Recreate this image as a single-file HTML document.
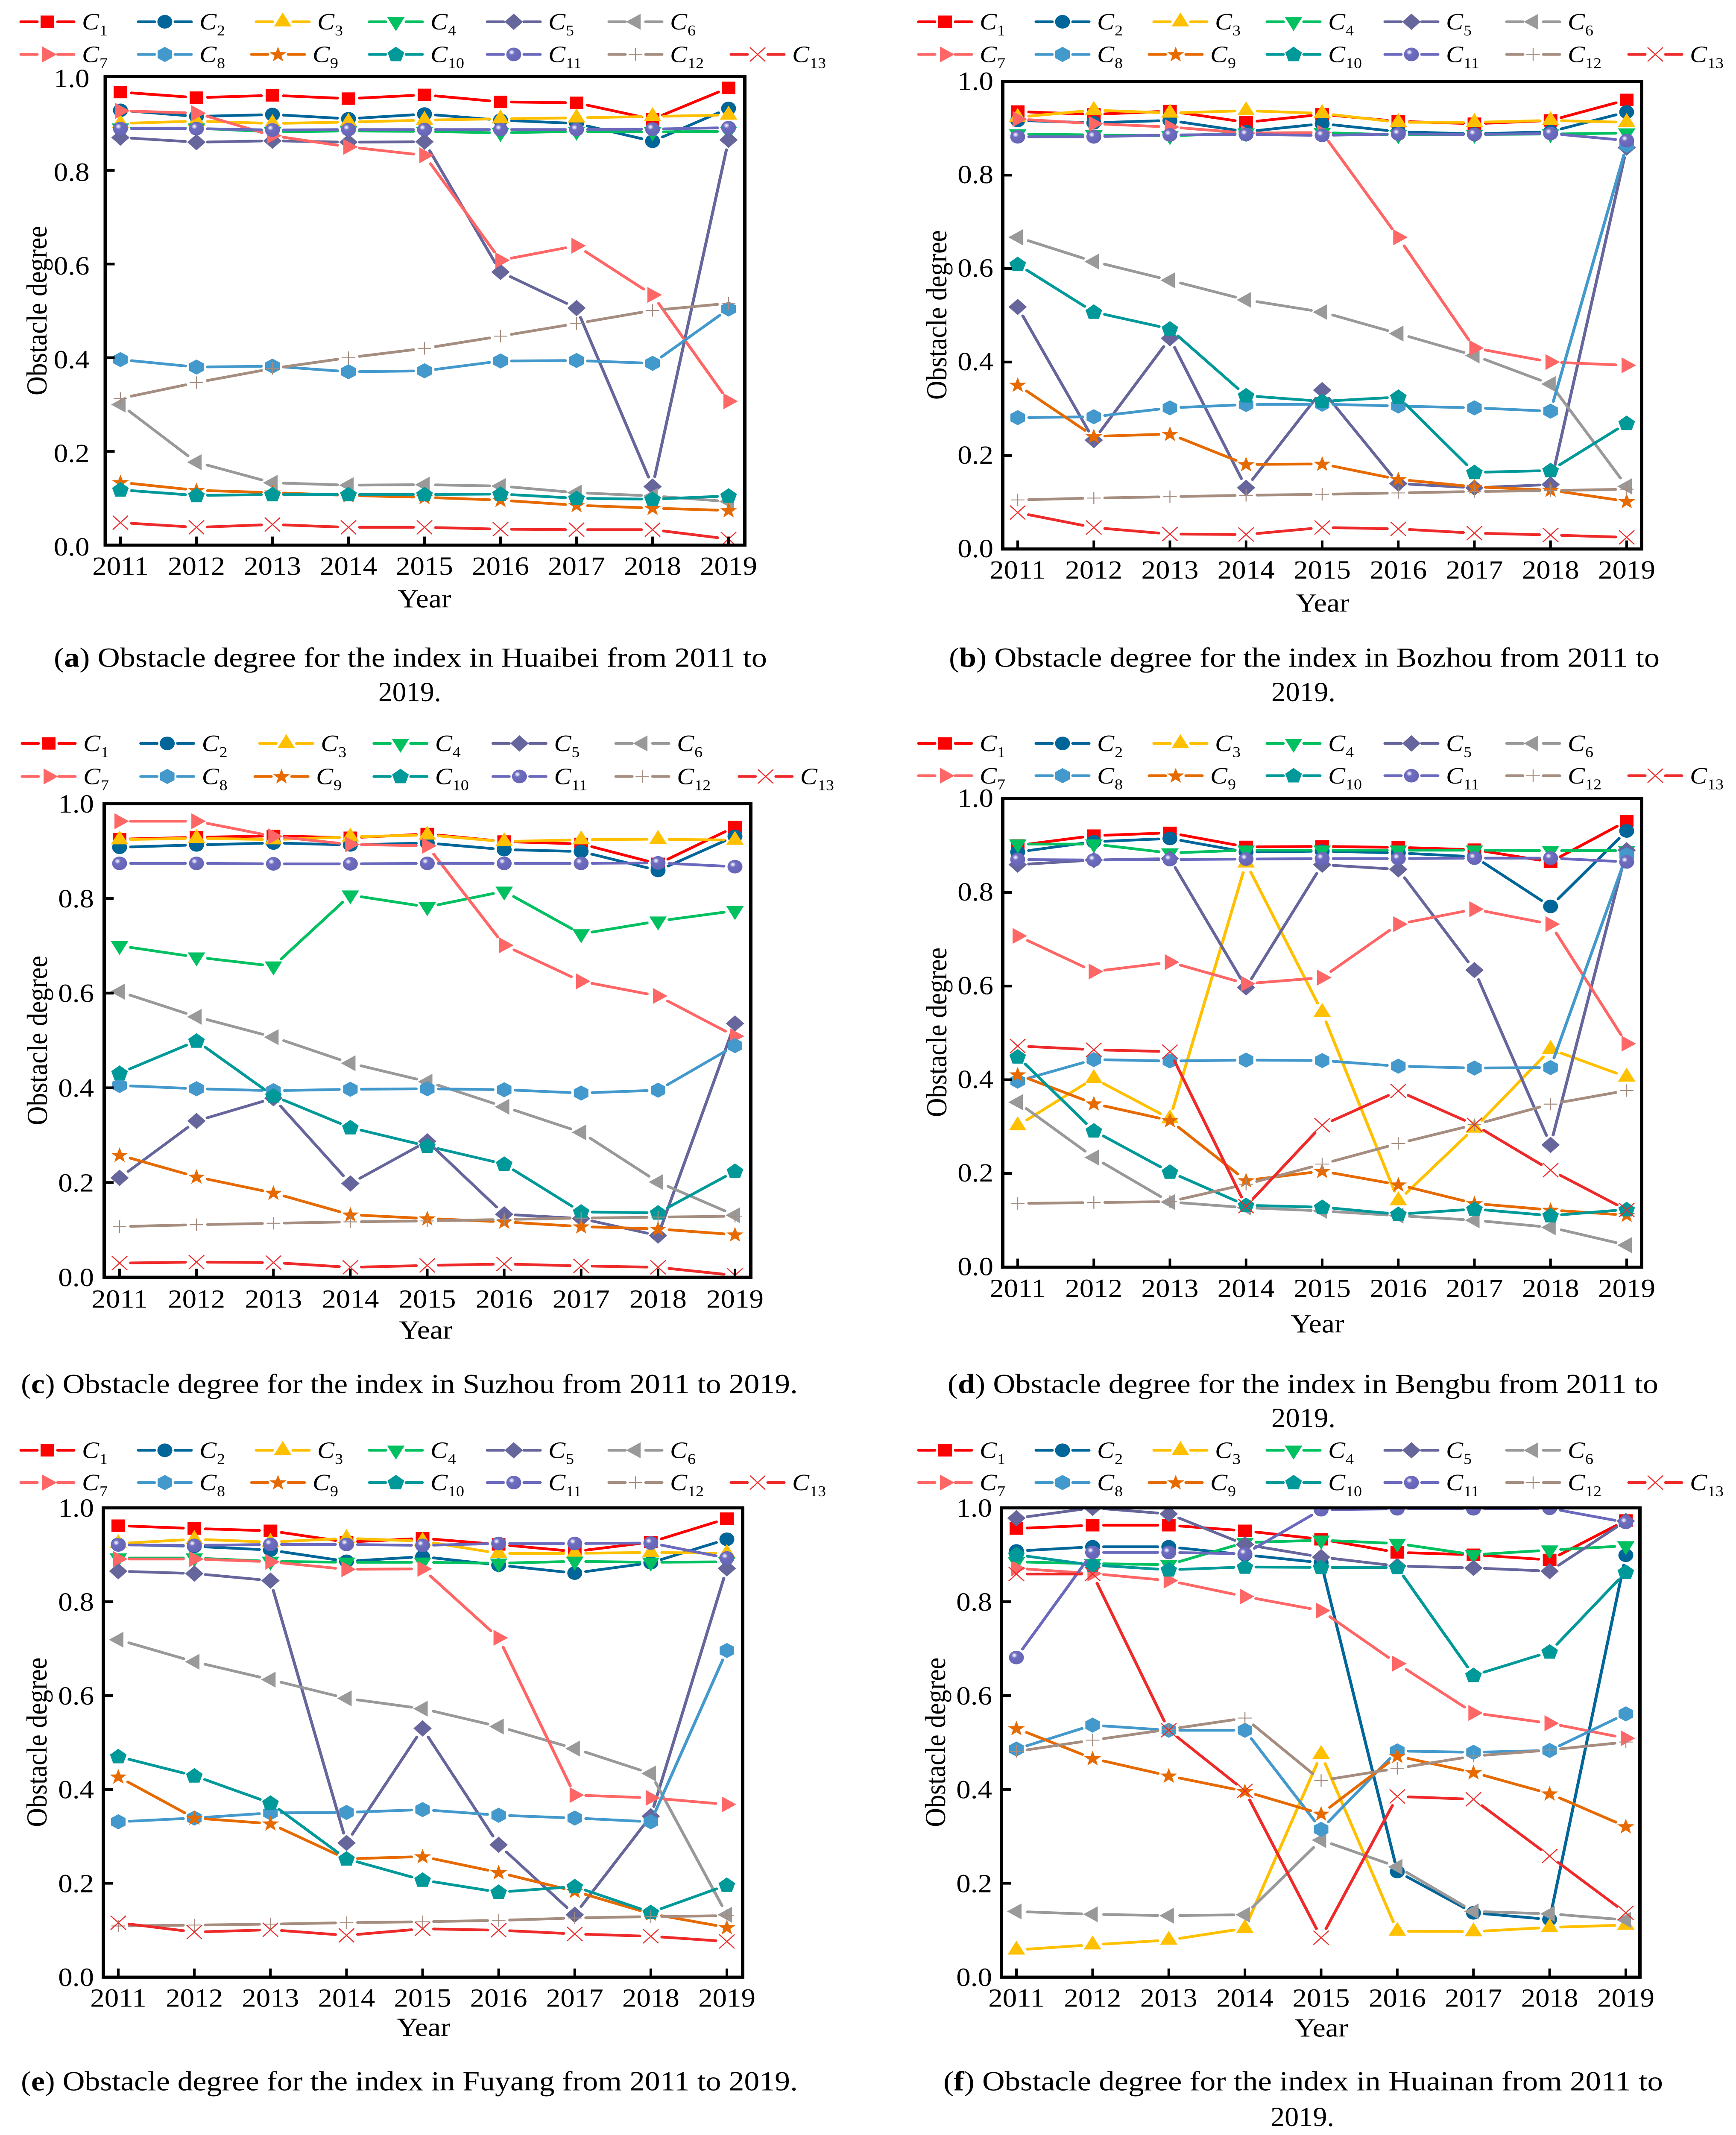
<!DOCTYPE html>
<html lang="en">
<head>
<meta charset="utf-8">
<title>Obstacle degree for the index in six cities, 2011–2019</title>
<style>
html,body{margin:0;padding:0;background:#fff;width:100vw;height:100vh;overflow:hidden;}
svg#figure{display:block;overflow:hidden;position:absolute;left:0;top:0;width:100vw;height:100vh;}
text{font-family:"Liberation Serif",serif;fill:#000;}
.cap{font-size:71px;}
.ttl{font-size:68px;}
</style>
</head>
<body>
<svg id="figure" xmlns="http://www.w3.org/2000/svg" viewBox="0 0 4065 5491" preserveAspectRatio="none">
<defs>
<radialGradient id="sphere" cx="0.36" cy="0.34" r="0.55">
<stop offset="0" stop-color="#f4f4fb"/>
<stop offset="0.14" stop-color="#d4d3ee"/>
<stop offset="0.36" stop-color="#6f6dc0"/>
<stop offset="1" stop-color="#6866b8"/>
</radialGradient>
</defs>

<g id="panel-a">
<text class="ttl" transform="translate(109 799) rotate(-90)" text-anchor="middle">Obstacle degree</text>
<text class="ttl" x="994" y="1562" text-anchor="middle">Year</text>
<text class="cap" x="126" y="1715" textLength="1670" lengthAdjust="spacingAndGlyphs">(<tspan font-weight="bold">a</tspan>) Obstacle degree for the index in Huaibei from 2011 to</text>
<text class="cap" x="886" y="1803" textLength="147" lengthAdjust="spacingAndGlyphs">2019.</text>
</g>

<g id="panel-b">
<text class="ttl" transform="translate(2216 810) rotate(-90)" text-anchor="middle">Obstacle degree</text>
<text class="ttl" x="3097" y="1573" text-anchor="middle">Year</text>
<text class="cap" x="2222" y="1715" textLength="1664" lengthAdjust="spacingAndGlyphs">(<tspan font-weight="bold">b</tspan>) Obstacle degree for the index in Bozhou from 2011 to</text>
<text class="cap" x="2977" y="1803" textLength="150" lengthAdjust="spacingAndGlyphs">2019.</text>
</g>

<g id="panel-c">
<text class="ttl" transform="translate(110 2676) rotate(-90)" text-anchor="middle">Obstacle degree</text>
<text class="ttl" x="997" y="3443" text-anchor="middle">Year</text>
<text class="cap" x="49" y="3583" textLength="1819" lengthAdjust="spacingAndGlyphs">(<tspan font-weight="bold">c</tspan>) Obstacle degree for the index in Suzhou from 2011 to 2019.</text>
</g>

<g id="panel-d">
<text class="ttl" transform="translate(2216 2655) rotate(-90)" text-anchor="middle">Obstacle degree</text>
<text class="ttl" x="3085" y="3427" text-anchor="middle">Year</text>
<text class="cap" x="2219" y="3583" textLength="1664" lengthAdjust="spacingAndGlyphs">(<tspan font-weight="bold">d</tspan>) Obstacle degree for the index in Bengbu from 2011 to</text>
<text class="cap" x="2977" y="3670" textLength="150" lengthAdjust="spacingAndGlyphs">2019.</text>
</g>

<g id="panel-e">
<text class="ttl" transform="translate(109 4481) rotate(-90)" text-anchor="middle">Obstacle degree</text>
<text class="ttl" x="992" y="5236" text-anchor="middle">Year</text>
<text class="cap" x="49" y="5376" textLength="1819" lengthAdjust="spacingAndGlyphs">(<tspan font-weight="bold">e</tspan>) Obstacle degree for the index in Fuyang from 2011 to 2019.</text>
</g>

<g id="panel-f">
<text class="ttl" transform="translate(2213 4481) rotate(-90)" text-anchor="middle">Obstacle degree</text>
<text class="ttl" x="3094" y="5238" text-anchor="middle">Year</text>
<text class="cap" x="2209" y="5376" textLength="1685" lengthAdjust="spacingAndGlyphs">(<tspan font-weight="bold">f</tspan>) Obstacle degree for the index in Huainan from 2011 to</text>
<text class="cap" x="2975" y="5468" textLength="149" lengthAdjust="spacingAndGlyphs">2019.</text>
</g>
</svg>

<script>
const years = ['2011','2012','2013','2014','2015','2016','2017','2018','2019'];
const yTickLabels = ['0.0','0.2','0.4','0.6','0.8','1.0'];
const yTickValues = [0,0.2,0.4,0.6,0.8,1.0];
const indexNumbers = ['1','2','3','4','5','6','7','8','9','10','11','12','13'];

const huaibeiValues = [
[.967,.955,.960,.953,.961,.946,.944,.909,.976],
[.928,.915,.919,.910,.920,.907,.900,.862,.932],
[.900,.905,.900,.903,.907,.910,.912,.915,.918],
[.890,.890,.882,.884,.883,.880,.883,.882,.883],
[.870,.860,.863,.860,.861,.583,.506,.125,.865],
[.300,.177,.133,.128,.129,.126,.112,.105,.093],
[.927,.922,.874,.850,.832,.608,.639,.534,.307],
[.396,.380,.382,.370,.372,.393,.394,.388,.504],
[.134,.117,.112,.106,.102,.096,.085,.079,.074],
[.118,.106,.108,.108,.108,.109,.100,.098,.105],
[.889,.889,.886,.887,.887,.887,.887,.888,.891],
[.313,.347,.377,.400,.420,.446,.473,.501,.516],
[.048,.038,.044,.038,.038,.034,.033,.033,.013]
];
const bozhouValues = [
[.936,.930,.937,.913,.930,.915,.910,.917,.961],
[.917,.912,.917,.893,.910,.893,.888,.893,.935],
[.924,.939,.933,.938,.932,.913,.913,.917,.913],
[.888,.886,.884,.890,.891,.886,.887,.888,.890],
[.518,.233,.451,.131,.340,.140,.131,.138,.859],
[.667,.615,.575,.533,.507,.461,.414,.353,.134],
[.920,.910,.903,.890,.891,.667,.430,.400,.393],
[.281,.283,.302,.309,.310,.306,.302,.295,.864],
[.351,.241,.246,.181,.182,.149,.133,.126,.102],
[.609,.507,.471,.328,.316,.325,.164,.168,.269],
[.882,.882,.886,.887,.885,.888,.887,.889,.874],
[.105,.109,.112,.115,.117,.120,.123,.125,.128],
[.078,.046,.032,.031,.046,.043,.034,.030,.025]
];
const suzhouValues = [
[.925,.929,.932,.928,.936,.920,.915,.873,.951],
[.908,.913,.917,.913,.917,.903,.899,.859,.931],
[.924,.927,.924,.930,.934,.920,.924,.925,.923],
[.700,.676,.657,.807,.782,.815,.725,.752,.774],
[.210,.330,.378,.198,.287,.133,.124,.088,.536],
[.603,.550,.507,.452,.413,.360,.306,.201,.131],
[.963,.963,.931,.914,.911,.701,.625,.594,.509],
[.405,.398,.394,.397,.398,.396,.389,.395,.489],
[.258,.212,.178,.132,.124,.117,.107,.102,.090],
[.431,.499,.383,.316,.277,.239,.138,.136,.224],
[.874,.874,.873,.873,.874,.874,.874,.875,.867],
[.107,.111,.114,.117,.119,.122,.125,.127,.129],
[.030,.032,.031,.021,.025,.028,.024,.021,.004]
];
const bengbuValues = [
[.900,.921,.927,.897,.898,.896,.891,.865,.952],
[.886,.908,.915,.886,.888,.884,.876,.770,.931],
[.302,.403,.317,.863,.544,.142,.297,.465,.406],
[.903,.903,.884,.890,.890,.890,.890,.889,.889],
[.859,.869,.872,.597,.859,.849,.634,.261,.890],
[.352,.234,.139,.127,.120,.110,.100,.085,.047],
[.707,.631,.651,.605,.618,.732,.764,.732,.477],
[.397,.443,.440,.442,.441,.429,.425,.426,.880],
[.411,.349,.313,.185,.205,.176,.136,.122,.111],
[.449,.291,.203,.132,.128,.113,.124,.110,.123],
[.870,.869,.870,.871,.872,.872,.873,.873,.865],
[.136,.138,.140,.177,.220,.264,.304,.348,.377],
[.472,.464,.460,.130,.303,.376,.304,.207,.122]
];
const fuyangValues = [
[.962,.956,.951,.927,.935,.922,.907,.927,.977],
[.922,.918,.910,.886,.896,.878,.861,.883,.933],
[.924,.933,.927,.935,.929,.903,.903,.905,.903],
[.893,.893,.886,.884,.884,.882,.886,.884,.885],
[.865,.860,.845,.286,.530,.282,.133,.343,.871],
[.719,.672,.634,.594,.572,.534,.487,.434,.133],
[.891,.891,.885,.869,.870,.723,.388,.382,.368],
[.331,.339,.350,.351,.357,.345,.339,.331,.696],
[.427,.339,.327,.252,.257,.223,.183,.135,.106],
[.470,.429,.371,.252,.207,.181,.193,.138,.196],
[.921,.920,.922,.922,.920,.924,.924,.925,.893],
[.109,.111,.113,.116,.118,.121,.126,.129,.131],
[.116,.096,.101,.089,.103,.100,.092,.087,.076]
];
const huainanValues = [
[.956,.963,.963,.951,.933,.905,.900,.889,.973],
[.908,.917,.917,.900,.883,.225,.137,.123,.899],
[.058,.069,.079,.104,.475,.098,.097,.106,.111],
[.885,.881,.879,.926,.931,.924,.900,.910,.919],
[.978,1.000,.987,.922,.895,.876,.872,.865,.972],
[.140,.134,.131,.133,.292,.235,.140,.135,.122],
[.871,.860,.845,.811,.781,.668,.563,.541,.509],
[.486,.537,.526,.526,.315,.482,.479,.483,.561],
[.530,.466,.429,.396,.348,.471,.436,.391,.321],
[.900,.878,.868,.874,.873,.873,.643,.693,.863],
[.681,.905,.905,.902,.996,.998,.998,.999,.969],
[.481,.505,.528,.552,.419,.445,.471,.484,.501],
[.859,.859,.526,.397,.084,.385,.379,.258,.137]
];

const seriesColors = ['#ff0000','#006699','#ffc000','#00c060','#66669c','#999999','#ff6666','#4499cc','#e66a00','#009999','#6b69bd','#a58d80','#ee2a2a'];

/* layout only */
const layouts = [
  {id:'panel-a', data:huaibeiValues, left:246.5, right:1744, top:197, bottom:1402, x0:282, x1:1706, yLabelGap:37, yLabelDrop:27, xLabelDrop:76, legDx:0, legY1:56, legY2:140, legScale:1, legShift:0},
  {id:'panel-b', data:bozhouValues, left:2348, right:3844, top:210, bottom:1412, x0:2383, x1:3809, yLabelGap:22, yLabelDrop:21, xLabelDrop:76, legDx:2102, legY1:56, legY2:140, legScale:1, legShift:0},
  {id:'panel-c', data:suzhouValues, left:244, right:1758, top:2067, bottom:3285, x0:280, x1:1721, yLabelGap:24, yLabelDrop:23, xLabelDrop:78, legDx:0, legY1:1912, legY2:1997, legScale:1.0095, legShift:3},
  {id:'panel-d', data:bengbuValues, left:2348, right:3844, top:2054, bottom:3259, x0:2383, x1:3809, yLabelGap:22, yLabelDrop:21, xLabelDrop:77, legDx:2102, legY1:1912, legY2:1995, legScale:1, legShift:0},
  {id:'panel-e', data:fuyangValues, left:242, right:1739, top:3878, bottom:5085, x0:277, x1:1702, yLabelGap:22, yLabelDrop:23, xLabelDrop:76, legDx:0, legY1:3730, legY2:3813, legScale:1, legShift:0},
  {id:'panel-f', data:huainanValues, left:2345, right:3840, top:3878, bottom:5085, x0:2380, x1:3807, yLabelGap:22, yLabelDrop:23, xLabelDrop:76, legDx:2102, legY1:3730, legY2:3813, legScale:1, legShift:0}
];
const legendRow1X = [111,386,662,927,1203,1488];
const legendRow2X = [111,386,651,927,1203,1488,1774];

const NS = 'http://www.w3.org/2000/svg';
function mk(tag, attrs, parent){
  const el = document.createElementNS(NS, tag);
  for (const k in attrs) el.setAttribute(k, attrs[k]);
  if (parent) parent.appendChild(el);
  return el;
}
function starPoints(){
  const p = [];
  for (let i = 0; i < 10; i++){
    const r = i % 2 ? 8.5 : 21;
    const a = -Math.PI/2 + i*Math.PI/5;
    p.push((r*Math.cos(a)).toFixed(1)+','+(r*Math.sin(a)+1).toFixed(1));
  }
  return p.join(' ');
}
function drawMarker(g, idx, color){
  if (idx === 0) mk('rect',{x:-16,y:-16,width:32,height:32,fill:color},g);
  else if (idx === 1) mk('circle',{r:17.5,fill:color},g);
  else if (idx === 2) mk('polygon',{points:'0,-24 20.5,12 -20.5,12',fill:color},g);
  else if (idx === 3) mk('polygon',{points:'0,24 20.5,-12 -20.5,-12',fill:color},g);
  else if (idx === 4) mk('polygon',{points:'0,-21 21.5,0 0,21 -21.5,0',fill:color},g);
  else if (idx === 5) mk('polygon',{points:'-22,0 12,-20.5 12,20.5',fill:color},g);
  else if (idx === 6) mk('polygon',{points:'22,0 -12,-20.5 -12,20.5',fill:color},g);
  else if (idx === 7) mk('polygon',{points:'0,-19.5 17,-9.5 17,9.5 0,19.5 -17,9.5 -17,-9.5',fill:color},g);
  else if (idx === 8) mk('polygon',{points:starPoints(),fill:color},g);
  else if (idx === 9) mk('polygon',{points:'0,-20 19.5,-5 12,17.5 -12,17.5 -19.5,-5',fill:color},g);
  else if (idx === 10) mk('circle',{r:17.5,fill:'url(#sphere)'},g);
  else if (idx === 11) mk('path',{d:'M-16 0H16M0 -16V16',stroke:color,'stroke-width':2.4,fill:'none'},g);
  else mk('path',{d:'M-18 -18L18 18M18 -18L-18 18',stroke:color,'stroke-width':2.6,fill:'none'},g);
}

function drawLegendEntry(parent, cx, cy, idx){
  const entry = mk('g',{},parent);
  
  
  mk('path',{d:'M'+(cx-62)+' '+cy+'H'+(cx-24)+'M'+(cx+24)+' '+cy+'H'+(cx+62),stroke:seriesColors[idx],'stroke-width':7,'stroke-linecap':'round',fill:'none'},entry);
  const m = mk('g',{transform:'translate('+cx+' '+cy+')'},entry);
  drawMarker(m, idx, seriesColors[idx]);
  const t = mk('text',{x:cx+81,y:cy+20,'font-size':60,'font-style':'italic'},entry);
  t.textContent = 'C';
  const s = mk('tspan',{dx:1,dy:15,'font-size':38,'font-style':'normal'},t);
  s.textContent = indexNumbers[idx];
}

layouts.forEach(function(L, pi){
  const root = document.getElementById(L.id);
  const xOf = function(i){ return L.x0 + (L.x1 - L.x0) * i / (years.length - 1); };
  const yOf = function(v){ return L.bottom - (L.bottom - L.top) * v; };

  /* legend */
  const legend = mk('g',{},root);
  
  
  legendRow1X.forEach(function(x, i){
    const cx = (x - 111) * L.legScale + 111 + L.legShift + L.legDx;
    drawLegendEntry(legend, cx, L.legY1, i);
  });
  legendRow2X.forEach(function(x, i){
    const cx = (x - 111) * L.legScale + 111 + L.legShift + L.legDx;
    drawLegendEntry(legend, cx, L.legY2, i + 6);
  });

  /* clip */
  const defs = mk('defs',{},root);
  const clip = mk('clipPath',{id:'clip-'+pi},defs);
  mk('rect',{x:L.left,y:L.top,width:L.right-L.left,height:L.bottom-L.top},clip);

  /* series */
  const plot = mk('g',{'clip-path':'url(#clip-'+pi+')'},root);
  
  
  L.data.forEach(function(vals, s){
    const color = seriesColors[s];
    const group = mk('g',{},plot);
    
    
    let d = '';
    for (let i = 0; i < vals.length - 1; i++){
      const x1 = xOf(i), y1 = yOf(vals[i]), x2 = xOf(i+1), y2 = yOf(vals[i+1]);
      const len = Math.hypot(x2-x1, y2-y1);
      const gap = 26;
      if (len <= 2*gap) continue;
      const ux = (x2-x1)/len, uy = (y2-y1)/len;
      d += 'M'+(x1+ux*gap).toFixed(1)+' '+(y1+uy*gap).toFixed(1)+'L'+(x2-ux*gap).toFixed(1)+' '+(y2-uy*gap).toFixed(1);
    }
    const line = mk('path',{d:d,stroke:color,'stroke-width':7,'stroke-linecap':'round',fill:'none'},group);
    
    
    vals.forEach(function(v, i){
      const m = mk('g',{transform:'translate('+xOf(i).toFixed(1)+' '+yOf(v).toFixed(1)+')'},group);
      
      
      drawMarker(m, s, color);
    });
  });

  /* frame */
  const frame = mk('rect',{x:L.left,y:L.top,width:L.right-L.left,height:L.bottom-L.top,fill:'none',stroke:'#000','stroke-width':8},root);
  
  

  /* y ticks */
  yTickValues.forEach(function(v, i){
    const y = yOf(v);
    if (v > 0 && v < 1){
      const tick = mk('line',{x1:L.left,x2:L.left+22,y1:y,y2:y,stroke:'#000','stroke-width':7},root);
      
      
    }
    const label = mk('text',{x:L.left-L.yLabelGap,y:y+L.yLabelDrop,'text-anchor':'end','font-size':67},root);
    
    
    label.textContent = yTickLabels[i];
  });

  /* x ticks */
  years.forEach(function(yr, i){
    const x = xOf(i);
    const tick = mk('line',{x1:x,x2:x,y1:L.bottom,y2:L.bottom-22,stroke:'#000','stroke-width':6},root);
    
    
    const label = mk('text',{x:x,y:L.bottom+L.xLabelDrop,'text-anchor':'middle','font-size':67},root);
    
    
    label.textContent = yr;
  });
});
</script>
</body>
</html>
